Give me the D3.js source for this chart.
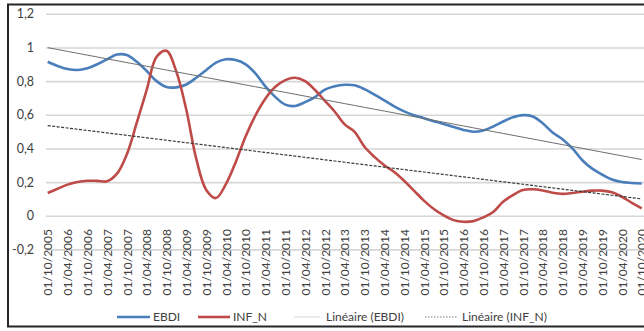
<!DOCTYPE html>
<html>
<head>
<meta charset="utf-8">
<script src="https://cdn.jsdelivr.net/npm/d3@7"></script>
<style>
  html, body { margin: 0; padding: 0; background: #fff; }
  svg { display: block; }
  text { font-family: Lato, "Liberation Sans", sans-serif; fill: #404040; }
</style>
</head>
<body>
<svg id="chart" width="644" height="331"></svg>
<script>
// Quarterly observation dates (dd/mm/yyyy)
const quarters = [
  "01/10/2005","01/01/2006","01/04/2006","01/07/2006","01/10/2006",
  "01/01/2007","01/04/2007","01/07/2007","01/10/2007",
  "01/01/2008","01/04/2008","01/07/2008","01/10/2008",
  "01/01/2009","01/04/2009","01/07/2009","01/10/2009",
  "01/01/2010","01/04/2010","01/07/2010","01/10/2010",
  "01/01/2011","01/04/2011","01/07/2011","01/10/2011",
  "01/01/2012","01/04/2012","01/07/2012","01/10/2012",
  "01/01/2013","01/04/2013","01/07/2013","01/10/2013",
  "01/01/2014","01/04/2014","01/07/2014","01/10/2014",
  "01/01/2015","01/04/2015","01/07/2015","01/10/2015",
  "01/01/2016","01/04/2016","01/07/2016","01/10/2016",
  "01/01/2017","01/04/2017","01/07/2017","01/10/2017",
  "01/01/2018","01/04/2018","01/07/2018","01/10/2018",
  "01/01/2019","01/04/2019","01/07/2019","01/10/2019",
  "01/01/2020","01/04/2020","01/07/2020","01/10/2020"
];

const ebdi = [
  0.915, 0.890, 0.872, 0.866, 0.876, 0.900, 0.930, 0.958, 0.955, 0.915,
  0.860, 0.800, 0.765, 0.763, 0.780, 0.820, 0.865, 0.910, 0.930, 0.925,
  0.900, 0.845, 0.767, 0.705, 0.660, 0.652, 0.675, 0.705, 0.750, 0.770,
  0.778, 0.775, 0.752, 0.720, 0.685, 0.650, 0.620, 0.597, 0.580, 0.562,
  0.545, 0.527, 0.510, 0.499, 0.507, 0.530, 0.560, 0.585, 0.598, 0.590,
  0.550, 0.495, 0.455, 0.400, 0.330, 0.280, 0.245, 0.215, 0.200, 0.195,
  0.192
];

const infN = [
  0.135, 0.160, 0.185, 0.200, 0.208, 0.207, 0.205, 0.250, 0.366, 0.553,
  0.748, 0.945, 0.980, 0.855, 0.630, 0.340, 0.155, 0.105, 0.188, 0.320,
  0.473, 0.598, 0.697, 0.766, 0.806, 0.820, 0.800, 0.747, 0.683, 0.618,
  0.543, 0.499, 0.410, 0.350, 0.300, 0.260, 0.208, 0.149, 0.090, 0.040,
  0.002, -0.026, -0.036, -0.032, -0.010, 0.022, 0.083, 0.123, 0.153, 0.157,
  0.150, 0.137, 0.130, 0.135, 0.143, 0.149, 0.149, 0.139, 0.113, 0.077,
  0.044
];

const yTicks = [-0.2, 0, 0.2, 0.4, 0.6, 0.8, 1, 1.2];
const yTickLabels = ["-0,2", "0", "0,2", "0,4", "0,6", "0,8", "1", "1,2"];

const seriesNames = ["EBDI", "INF_N", "Linéaire (EBDI)", "Linéaire (INF_N)"];

const svg = d3.select("#chart");

const x = d3.scalePoint().domain(quarters).range([47.7, 641.7]);
const y = d3.scaleLinear().domain([-0.2, 1.2]).range([249.4, 13.8]);

// Outer frame
svg.append("rect")
  .attr("x", 8).attr("y", 4.5)
  .attr("width", 660).attr("height", 322)
  .attr("fill", "none").attr("stroke", "#262626").attr("stroke-width", 2);

// Value axis with horizontal gridlines
const gridLeft = 46;
const yAxis = svg.append("g")
  .attr("transform", `translate(${gridLeft},0)`)
  .call(d3.axisLeft(y)
    .tickValues(yTicks)
    .tickSize(-(644 - gridLeft))
    .tickPadding(12)
    .tickFormat((d, i) => yTickLabels[i]));
yAxis.select(".domain").remove();
yAxis.selectAll(".tick line").attr("stroke", "#d6d6d6").attr("stroke-width", 1.6);
yAxis.selectAll(".tick text")
  .style("font-size", "12.5px").attr("fill", "#3a3a3a");

// Category axis: every second quarter is labelled, text rotated
const labelled = quarters.filter((d, i) => i % 2 === 0);
const xAxis = svg.append("g")
  .attr("transform", "translate(0,229)")
  .call(d3.axisBottom(x).tickValues(labelled).tickSize(0).tickPadding(0));
xAxis.select(".domain").remove();
xAxis.selectAll(".tick text")
  .attr("transform", "rotate(-90)")
  .attr("text-anchor", "end")
  .attr("x", 0).attr("y", 0).attr("dy", "0.35em")
  .style("font-size", "12px").attr("fill", "#3a3a3a");

// Series lines (smoothed)
const line = d3.line()
  .x((d, i) => x(quarters[i]))
  .y(d => y(d))
  .curve(d3.curveCatmullRom.alpha(0.5));

svg.append("path").datum(ebdi)
  .attr("d", line).attr("fill", "none")
  .attr("stroke", "#4a7ebb").attr("stroke-width", 2.6)
  .attr("stroke-linejoin", "round");

svg.append("path").datum(infN)
  .attr("d", line).attr("fill", "none")
  .attr("stroke", "#be4b48").attr("stroke-width", 2.6)
  .attr("stroke-linejoin", "round");

// Least-squares linear trends
function linearFit(vals) {
  const xm = d3.mean(vals, (d, i) => i);
  const ym = d3.mean(vals);
  let sxy = 0, sxx = 0;
  vals.forEach((v, i) => { sxy += (i - xm) * (v - ym); sxx += (i - xm) * (i - xm); });
  const b = sxy / sxx;
  const a = ym - b * xm;
  return vals.map((v, i) => a + b * i);
}

const straight = d3.line()
  .x((d, i) => x(quarters[i]))
  .y(d => y(d));

svg.append("path").datum(linearFit(ebdi))
  .attr("d", straight).attr("fill", "none")
  .attr("stroke", "#6e6e6e").attr("stroke-width", 1);

svg.append("path").datum(linearFit(infN))
  .attr("d", straight).attr("fill", "none")
  .attr("stroke", "#3a3a3a").attr("stroke-width", 1.2)
  .attr("stroke-dasharray", "3,1.5");

// Legend
const legendY = 317;
const legendItems = [
  { x0: 117, x1: 150, tx: 153, stroke: "#4a7ebb", w: 2.6, dash: null },
  { x0: 198, x1: 230, tx: 233, stroke: "#be4b48", w: 2.6, dash: null },
  { x0: 294, x1: 320, tx: 326, stroke: "#d9d9d9", w: 1, dash: null },
  { x0: 425, x1: 458, tx: 462, stroke: "#7a7a7a", w: 1.2, dash: "1.5,1.5" }
];
const lg = svg.append("g");
legendItems.forEach((it, i) => {
  lg.append("line")
    .attr("x1", it.x0).attr("x2", it.x1)
    .attr("y1", legendY).attr("y2", legendY)
    .attr("stroke", it.stroke).attr("stroke-width", it.w)
    .attr("stroke-dasharray", it.dash);
  lg.append("text")
    .attr("x", it.tx).attr("y", legendY).attr("dy", "0.35em")
    .style("font-size", "12px").attr("fill", "#3a3a3a")
    .text(seriesNames[i]);
});
</script>
</body>
</html>
